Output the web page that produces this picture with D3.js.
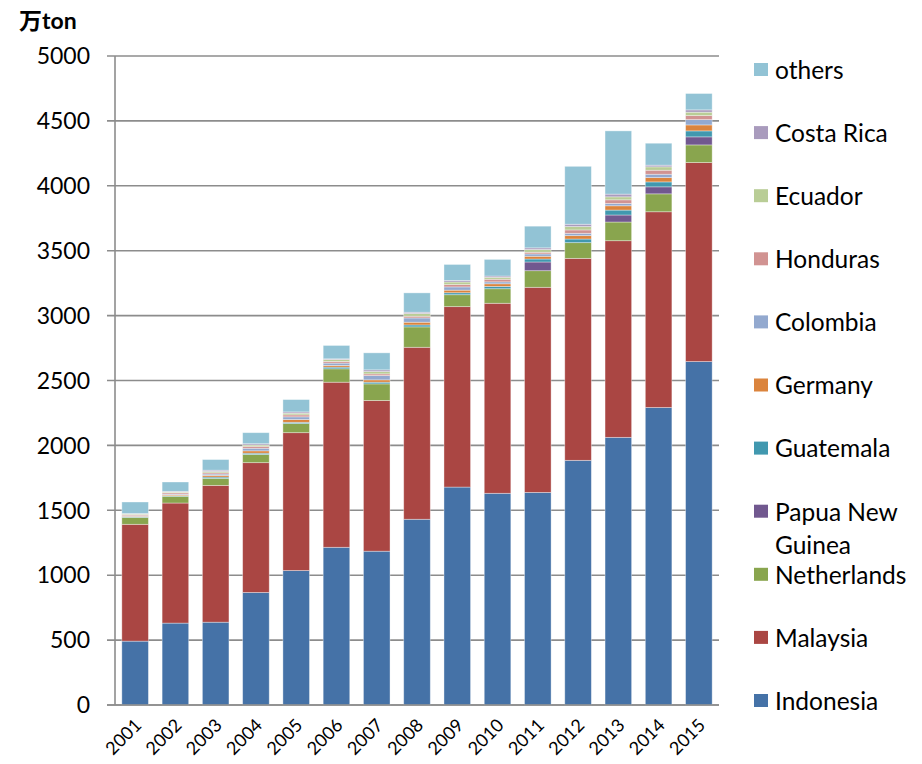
<!DOCTYPE html>
<html>
<head>
<meta charset="utf-8">
<script src="https://cdn.jsdelivr.net/npm/d3@7"></script>
<style>
  html, body { margin: 0; padding: 0; background: #fff; }
  svg { display: block; font-family: Lato, "Noto Sans", sans-serif; }
</style>
</head>
<body>
<svg id="chart" width="922" height="764"></svg>
<script>
// Palm oil production by country, 万ton
const years = ["2001","2002","2003","2004","2005","2006","2007","2008","2009","2010","2011","2012","2013","2014","2015"];
const indonesia   = [492, 631, 638, 867, 1036, 1215, 1185, 1431, 1679, 1631, 1638, 1885, 2062, 2292, 2646];
const malaysia    = [900, 925, 1054, 1000, 1062, 1272, 1161, 1325, 1390, 1464, 1580, 1556, 1515, 1508, 1533];
const netherlands = [54, 52, 54, 63, 70, 103, 128, 157, 92, 112, 128, 121, 144, 138, 136];
const papua       = [0, 0, 0, 0, 0, 0, 0, 0, 0, 0, 67, 0, 54, 54, 62];
const guatemala   = [3, 4, 10, 10, 10, 13, 13, 15, 15, 18, 23, 28, 38, 38, 46];
const germany     = [5, 7, 13, 18, 21, 13, 18, 21, 20, 20, 21, 26, 33, 33, 46];
const colombia    = [5, 6, 10, 20, 21, 18, 33, 33, 25, 15, 18, 18, 18, 26, 41];
const honduras    = [8, 10, 10, 15, 15, 13, 13, 13, 18, 20, 13, 26, 28, 31, 31];
const ecuador     = [5, 6, 10, 10, 13, 15, 18, 21, 20, 15, 21, 26, 23, 26, 26];
const costaRica   = [3, 5, 10, 10, 10, 5, 13, 10, 12, 10, 13, 18, 21, 13, 18];
const others      = [89, 72, 82, 85, 95, 103, 131, 149, 123, 128, 167, 446, 487, 169, 126];
const yTicks = [0, 500, 1000, 1500, 2000, 2500, 3000, 3500, 4000, 4500, 5000];

const seriesList = [
  { key: "Indonesia",        values: indonesia,   color: "#4572A7" },
  { key: "Malaysia",         values: malaysia,    color: "#AA4643" },
  { key: "Netherlands",      values: netherlands, color: "#89A54E" },
  { key: "Papua New Guinea", values: papua,       color: "#71588F" },
  { key: "Guatemala",        values: guatemala,   color: "#4198AF" },
  { key: "Germany",          values: germany,     color: "#DB843D" },
  { key: "Colombia",         values: colombia,    color: "#93A9CF" },
  { key: "Honduras",         values: honduras,    color: "#D19392" },
  { key: "Ecuador",          values: ecuador,     color: "#B9CD96" },
  { key: "Costa Rica",       values: costaRica,   color: "#A99BBD" },
  { key: "others",           values: others,      color: "#92C3D5" }
];

const rows = years.map((yr, i) => {
  const r = { year: yr };
  seriesList.forEach(s => { r[s.key] = s.values[i]; });
  return r;
});

const stacked = d3.stack().keys(seriesList.map(s => s.key))(rows);

const svg = d3.select("#chart");
const plotLeft = 115, plotRight = 719, plotTop = 56, plotBottom = 705;

const x = d3.scaleBand().domain(years).range([plotLeft, plotRight]).paddingInner(0.34).paddingOuter(0.17);
const y = d3.scaleLinear().domain([0, 5000]).range([plotBottom, plotTop]);

// gridlines and y tick marks
svg.append("g").selectAll("line").data(yTicks).join("line")
  .attr("x1", plotLeft - 8).attr("x2", plotRight)
  .attr("y1", d => y(d)).attr("y2", d => y(d))
  .attr("stroke", "#8c8c8c").attr("stroke-width", 1.6);

// y tick labels
svg.append("g").selectAll("text").data(yTicks).join("text")
  .attr("x", 90).attr("y", d => y(d))
  .attr("dy", "0.36em").attr("text-anchor", "end")
  .attr("font-size", 23).attr("fill", "#000")
  .text(d => d);

// stacked bars
const colorOf = Object.fromEntries(seriesList.map(s => [s.key, s.color]));
svg.append("g").selectAll("g").data(stacked).join("g")
  .attr("fill", d => colorOf[d.key])
  .selectAll("rect").data(d => d).join("rect")
  .attr("x", d => x(d.data.year))
  .attr("width", x.bandwidth())
  .attr("y", d => y(d[1]))
  .attr("height", d => Math.max(0, y(d[0]) - y(d[1])))
  .attr("stroke", "rgba(255,255,255,0.45)")
  .attr("stroke-width", 0.8);

// axis lines
svg.append("line").attr("x1", plotLeft).attr("x2", plotLeft).attr("y1", plotTop).attr("y2", plotBottom)
  .attr("stroke", "#8c8c8c").attr("stroke-width", 1.6);
svg.append("line").attr("x1", plotLeft - 8).attr("x2", plotRight).attr("y1", plotBottom).attr("y2", plotBottom)
  .attr("stroke", "#8c8c8c").attr("stroke-width", 1.6);

// x tick labels, rotated
svg.append("g").selectAll("text").data(years).join("text")
  .attr("transform", d => `translate(${x(d) + x.bandwidth() / 2 + 3},${plotBottom + 17}) rotate(-45)`)
  .attr("text-anchor", "end").attr("dy", "0.35em")
  .attr("font-size", 18).attr("fill", "#000")
  .text(d => d);

// unit label
svg.append("text").attr("x", 19).attr("y", 29)
  .attr("font-size", 23).attr("font-weight", "bold")
  .attr("font-family", "Lato, 'Noto Sans CJK SC', sans-serif")
  .text("万ton");

// legend (top entry is the top of the stack)
const legendItems = seriesList.slice().reverse();
const lg = svg.append("g");
legendItems.forEach((s, i) => {
  const cy = 70 + i * 63.1;
  lg.append("rect").attr("x", 754).attr("y", cy - 7).attr("width", 14).attr("height", 13)
    .attr("fill", s.color);
  const t = lg.append("text").attr("x", 775).attr("y", cy).attr("dy", "0.36em")
    .attr("font-size", 24.5).attr("fill", "#000");
  if (s.key === "Papua New Guinea") {
    t.append("tspan").attr("x", 775).text("Papua New");
    t.append("tspan").attr("x", 775).attr("dy", "1.35em").text("Guinea");
  } else {
    t.text(s.key);
  }
});
</script>
</body>
</html>
